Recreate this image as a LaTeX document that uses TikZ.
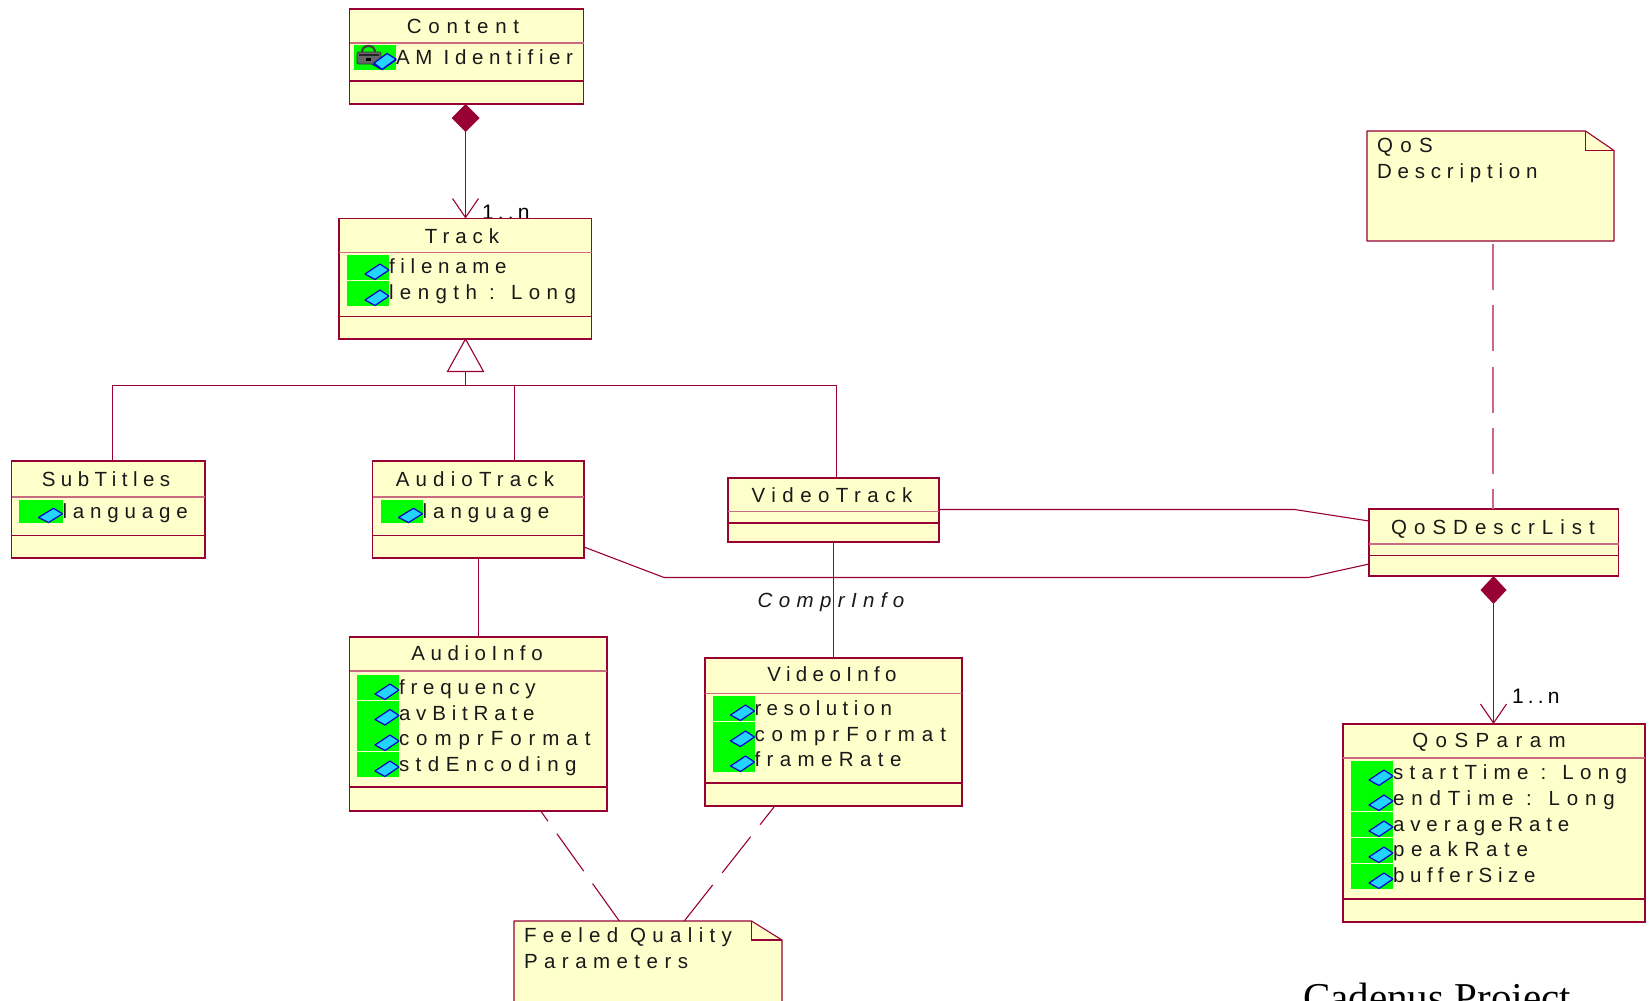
\documentclass[tikz,border=0pt]{standalone}
\usepackage{fontspec}
\setmainfont[LetterSpace=33]{Liberation Sans}
\newfontfamily\plainsp[LetterSpace=20]{Liberation Sans}
\newfontfamily\serifcad{Liberation Serif}
\usetikzlibrary{arrows.meta,shapes.geometric}
\definecolor{umlline}{HTML}{990033}
\definecolor{umlsoft}{HTML}{C96A80}
\definecolor{umlfill}{HTML}{FFFFCC}
\definecolor{umlgreen}{HTML}{00FF00}
\definecolor{umlcyan}{HTML}{22D4FF}
\definecolor{umlblue}{HTML}{0000CC}
\tikzset{
  conn/.style={draw=umlline,line width=1.1pt},
  dashconn/.style={conn,dash pattern=on 46pt off 15.3pt},
  openhead/.style={conn,-{Straight Barb[length=19pt,width=26pt,line width=1.1pt]}},
  lbl/.style={inner sep=0pt,outer sep=0pt,text=black!90,font=\fontsize{20.5}{20.5}\selectfont},
  boxshape/.style={draw=umlline,fill=umlfill,line width=1.1pt,inner sep=0pt,outer sep=0pt},
  filled diamond/.style={diamond,aspect=1,fill=umlline,inner sep=0pt,outer sep=0pt,minimum width=28pt,minimum height=28pt},
}
\newcommand{\tsp}[2]{{\addfontfeature{LetterSpace=#1}#2}}
% name, x1,y1,x2,y2, div1, div2
\newcommand{\umlbox}[7]{%
  \pgfmathsetmacro{\bw}{#4-#2}\pgfmathsetmacro{\bh}{#5-#3}%
  \pgfmathsetmacro{\bx}{(#2+#4)/2}\pgfmathsetmacro{\by}{(#3+#5)/2}%
  \node[boxshape,minimum width=\bw pt,minimum height=\bh pt] (#1) at (\bx,\by) {};
  \draw[draw=umlsoft,line width=1.6pt] (#2,#6) -- (#4,#6);
  \draw[conn] (#2,#7) -- (#4,#7);
  \draw[draw=umlline,line width=2.2pt] (#2,#5) -- (#4,#5);
}
% icon at green top-left x,y
\newcommand{\attricon}[3][1]{%
  \begin{scope}[shift={(#2,#3)},yscale=#1]
    \fill[umlgreen] (0,0) rectangle (42,25);
    \draw[fill=umlcyan,draw=umlblue,line width=1.2pt,line join=round] (18,19) -- (33,9) -- (42,15) -- (28,24.5) -- cycle;
  \end{scope}}
% name, green x, green y, baseline, text
\newcommand{\attrow}[6][1]{%
  \attricon[#1]{#3}{#4}
  \node[lbl,anchor=base west] (#2) at (#3+42,#5) {#6};}
\newcommand{\notebox}[7]{% name x1 y1 x2 y2 foldx foldy
  \pgfmathsetmacro{\bw}{#4-#2}\pgfmathsetmacro{\bh}{#5-#3}%
  \pgfmathsetmacro{\bx}{(#2+#4)/2}\pgfmathsetmacro{\by}{(#3+#5)/2}%
  \draw[fill=umlfill,draw=umlline,line width=1.1pt,line join=round] (#2,#3) -- (#6,#3) -- (#4,#7) -- (#4,#5) -- (#2,#5) -- cycle;
  \draw[draw=umlline,line width=1.1pt] (#6,#3) -- (#6,#7) -- (#4,#7);
  \node[inner sep=0pt,outer sep=0pt,minimum width=\bw pt,minimum height=\bh pt] (#1) at (\bx,\by) {};
}
\begin{document}
\begin{tikzpicture}[x=1pt,y=-1pt]
\useasboundingbox (0,0) rectangle (1650,1001);
\clip (0,0) rectangle (1650,1001);

% multiplicity tucked behind the Track box
\node[lbl,anchor=base west,text=black,font=\fontsize{21}{21}\plainsp] (mult1) at (482,219) {1..n};

% boxes
\umlbox{content}{349.5}{9}{583.5}{104}{43}{81}
\umlbox{trk}{339}{218.5}{591.5}{339}{252.5}{316.5}
\umlbox{subt}{11.5}{461}{205}{558}{497}{535.5}
\umlbox{atrk}{372.5}{461}{584}{558}{497}{535.5}
\umlbox{vtrk}{728}{478}{939}{542}{511.5}{523}
\umlbox{qdl}{1369}{509}{1618.5}{576}{544}{555.5}
\umlbox{ainfo}{349.5}{637}{607}{811}{671}{787}
\umlbox{vinfo}{705}{658}{962}{806}{693.5}{783}
\umlbox{qparam}{1343}{724}{1645}{922}{758}{899}
\notebox{qnote}{1367}{131}{1614}{241}{1585.5}{150.5}
\notebox{fnote}{514}{921}{782}{1010}{751.5}{940}

% titles
\node[lbl,anchor=base] (tcontent) at (463,34) {Content};
\node[lbl,anchor=base] (ttrk) at (462,243) {\tsp{29}{Track}};
\node[lbl,anchor=base] (tsubt) at (106,486) {\tsp{26.7}{SubTitles}};
\node[lbl,anchor=base] (tatrk) at (475,486) {\tsp{30}{AudioTrack}};
\node[lbl,anchor=base] (tvtrk) at (832,502) {\tsp{31.5}{VideoTrack}};
\node[lbl,anchor=base] (tqdl) at (1493,534.5) {\tsp{34.3}{QoSDescrList}};
\node[lbl,anchor=base] (tainfo) at (477,660) {\tsp{27.3}{AudioInfo}};
\node[lbl,anchor=base] (tvinfo) at (832,681) {\tsp{26.2}{VideoInfo}};
\node[lbl,anchor=base] (tqparam) at (1489,747) {\tsp{36.2}{QoSParam}};

% attributes
\attrow{aid}{354}{45}{64}{\tsp{27.5}{AM Identifier}}
\begin{scope}[shift={(354,45)}]
  \draw[black!75,line width=2.2pt] (8,7) .. controls (8,-1) and (21,-1) .. (21,7);
  \fill[black!60,draw=black!80,line width=0.8pt,rounded corners=2pt] (3,7) rectangle (27,19);
  \fill[black!85] (5,9) rectangle (25,11);
  \fill[black] (12,13) rectangle (17,15.5);
\end{scope}
\draw[fill=umlcyan,draw=umlblue,line width=1.2pt,line join=round] (374,63) -- (387,53.5) -- (396,59) -- (382,69.5) -- cycle;
\attrow{afile}{347}{255}{273}{\tsp{28}{filename}}
\attrow{alen}{347}{281}{299}{\tsp{31.4}{length : Long}}
\fill[umlgreen] (19,500) rectangle (22,523);
\attrow[0.92]{alangs}{20.5}{500}{518.5}{\tsp{28.5}{language}}
\attrow[0.92]{alanga}{380.5}{500}{518.5}{\tsp{29.5}{language}}
\attrow{afreq}{357}{675}{694}{\tsp{28.4}{frequency}}
\attrow{arate}{357}{700.5}{720}{\tsp{28.4}{avBitRate}}
\attrow{acomp}{357}{726}{745}{\tsp{34}{comprFormat}}
\attrow{astd}{357}{752}{771}{\tsp{31.6}{stdEncoding}}
\attrow{vres}{712.5}{696}{715.5}{\tsp{26.3}{resolution}}
\attrow{vcomp}{712.5}{722}{741}{\tsp{34}{comprFormat}}
\attrow{vfr}{712.5}{747}{766}{\tsp{31.3}{frameRate}}
\attrow{pstart}{1351}{761}{779}{\tsp{31}{startTime : Long}}
\attrow{pend}{1351}{786}{805}{\tsp{33.7}{endTime : Long}}
\attrow{pavg}{1351}{812}{831}{\tsp{28.8}{averageRate}}
\attrow{ppeak}{1351}{838}{856}{peakRate}
\attrow{pbuf}{1351}{864}{882}{\tsp{27.4}{bufferSize}}

% notes text
\node[lbl,anchor=base west] (nq1) at (1377,152) {\tsp{36}{QoS}};
\node[lbl,anchor=base west] (nq2) at (1377,178) {\tsp{28.3}{Description}};
\node[lbl,anchor=base west] (nf1) at (524,942) {\tsp{30.8}{Feeled Quality}};
\node[lbl,anchor=base west] (nf2) at (524,968) {\tsp{31.5}{Parameters}};

% composition Content -> Track
\node[filled diamond,anchor=north] (cdia) at (465.5,104) {};
\draw[openhead] (cdia.south) -- (cdia.south |- trk.north);

% generalisation
\coordinate (gapex) at (465.5,339);
\coordinate (gbase) at (465.5,371.5);
\coordinate (gbus) at (465.5,385.5);
\coordinate (bl) at (112.5,385.5);
\coordinate (bm) at (514.5,385.5);
\coordinate (br) at (836.5,385.5);
\draw[conn,fill=white,line join=miter] (gapex) -- (447.5,371.5) -- (483.5,371.5) -- cycle;
\draw[conn] (gbase) -- (gbus);
\draw[conn] (bl |- subt.north) -- (bl) -- (br) -- (br |- vtrk.north);
\draw[conn] (bm) -- (bm |- atrk.north);

% associations
\coordinate (v1) at (1294.5,509.5);
\draw[conn] (vtrk.east |- v1) -- (v1) -- (qdl.west |- 0,521);
\coordinate (a1) at (664,577.5);
\coordinate (a2) at (1308,577.5);
\draw[conn] (atrk.east |- 0,547) -- (a1) -- (a2) -- (qdl.west |- 0,564);
\draw[conn] (478.5,558) -- (478.5,637);
\draw[conn] (833.5,542) -- (833.5,658);
\node[lbl,anchor=base,font=\fontsize{20.5}{20.5}\selectfont\itshape] (compr) at (831,607.7) {\tsp{31}{ComprInfo}};

% composition QoSDescrList -> QoSParam
\node[filled diamond,anchor=north,minimum width=26pt,minimum height=28pt] (qdia) at (1493.5,576) {};
\draw[openhead] (qdia.south) -- (qdia.south |- qparam.north);
\node[lbl,anchor=base west,text=black,font=\fontsize{21}{21}\plainsp] (mult2) at (1512,703.5) {1..n};

% note links (dash phase starts at the note)
\draw[dashconn,draw=umlsoft,line width=1.6pt] (1492.7,244) -- (1492.7,509);
\draw[dashconn] (619.3,921) -- (540.7,811);
\draw[dashconn] (684.3,921) -- (774,807);

\node[inner sep=0pt,anchor=base west,font=\fontsize{41}{41}\serifcad] (cad) at (1303,1011.5) {Cadenus Project};
\end{tikzpicture}
\end{document}
